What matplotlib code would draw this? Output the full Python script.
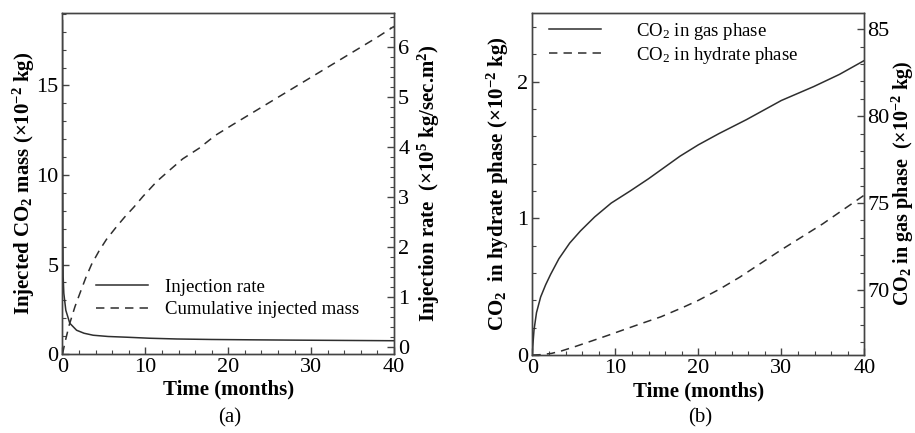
import matplotlib
matplotlib.use("Agg")
import matplotlib.pyplot as plt
from matplotlib.ticker import MultipleLocator

plt.rcParams["font.family"] = ["Liberation Serif", "DejaVu Serif"]
plt.rcParams["mathtext.default"] = "regular"

# panel (a): injection rate (right axis) and cumulative injected mass (left axis)
t_rate = [0, 0.02, 0.05, 0.08, 0.16, 0.4, 0.88, 1.7, 2.6, 3.7, 5.5, 7.8, 10.5, 13.8, 18, 23, 28, 34, 40]
rate = [6.53, 4.0, 2.2, 1.4, 1.07, 0.73, 0.47, 0.33, 0.27, 0.23, 0.205, 0.19, 0.17, 0.155, 0.145, 0.138, 0.132, 0.126, 0.12]

t_mass = [0, 0.3, 0.8, 1.5, 2.1, 2.8, 3.5, 4.4, 5.3, 6.5, 7.5, 8.6, 9.7, 11.4, 13, 14.5,
          16.5, 18.4, 20.5, 23, 25.5, 28, 30.5, 33, 35.5, 38, 40]
mass = [0, 0.65, 1.6, 2.64, 3.39, 4.25, 5.0, 5.75, 6.4, 7.1, 7.65, 8.2, 8.8, 9.65, 10.3, 10.9,
        11.5, 12.2, 12.8, 13.5, 14.2, 14.9, 15.6, 16.3, 17.0, 17.7, 18.3]

# panel (b): CO2 in gas phase (right axis) and in hydrate phase (left axis)
t_gas = [0, 0.05, 0.2, 0.5, 1.0, 1.6, 2.2, 3.2, 4.5, 5.8, 7.5, 9.5, 11.8, 14, 17.8, 20, 22.5,
         25.8, 30, 33.9, 37, 40]
gas = [66.26, 66.75, 67.7, 68.7, 69.6, 70.3, 70.9, 71.8, 72.7, 73.4, 74.2, 75.0, 75.7, 76.4,
       77.7, 78.35, 79.0, 79.8, 80.9, 81.7, 82.4, 83.2]

t_hyd = [0, 1, 2.3, 3.5, 5.1, 7, 9.2, 11, 13.2, 15.5, 18.2, 20, 22.5, 25, 27.5, 30, 32.5, 35, 37.5, 40]
hyd = [0, 0.003, 0.012, 0.03, 0.061, 0.1, 0.146, 0.185, 0.232, 0.28, 0.35, 0.40, 0.48, 0.57,
       0.67, 0.77, 0.865, 0.96, 1.065, 1.17]

line_col = "#2e2e2e"
fs_tick = 16
fs_label = 15
fs_leg = 13.5

fig = plt.figure(figsize=(9.15, 4.33), dpi=100)
ax1 = fig.add_axes([0.0683, 0.1824, 0.3623, 0.7876])
ax2 = fig.add_axes([0.5818, 0.180, 0.3628, 0.7907])


def style(ax, right=False, pad=3):
    for s in ax.spines.values():
        s.set_color("#444444")
        s.set_linewidth(1.0)
    ax.tick_params(which="both", direction="in", top=False, labelsize=fs_tick,
                   color="#444444", pad=pad)
    ax.tick_params(which="major", length=5, width=1)
    ax.tick_params(which="minor", length=3, width=0.8)
    if right:
        ax.tick_params(which="both", left=False, right=True, bottom=False)


# ---- (a)
ax1b = ax1.twinx()
l_mass, = ax1.plot(t_mass, mass, color=line_col, lw=1.1, dashes=(5.5, 4))
l_rate, = ax1b.plot(t_rate, rate, color=line_col, lw=1.1)
ax1.set_xlim(0, 40)
ax1.set_ylim(0, 19.05)
ax1b.set_ylim(-0.146, 6.68)
ax1.xaxis.set_major_locator(MultipleLocator(10))
ax1.xaxis.set_minor_locator(MultipleLocator(2))
ax1.yaxis.set_major_locator(MultipleLocator(5))
ax1.yaxis.set_minor_locator(MultipleLocator(1))
ax1b.yaxis.set_major_locator(MultipleLocator(1))
ax1b.yaxis.set_minor_locator(MultipleLocator(0.2))
style(ax1)
style(ax1b, right=True)
ax1.set_xlabel("Time (months)", fontsize=fs_label, fontweight="bold", labelpad=2)
ax1.set_ylabel("Injected CO$_2$ mass (×10$^{-2}$ kg)", fontsize=fs_label,
               fontweight="bold", labelpad=-1)
ax1b.set_ylabel("Injection rate  (×10$^5$ kg/sec.m$^2$)", fontsize=fs_label,
                fontweight="bold", labelpad=5)
ax1b.legend([l_rate, l_mass], ["Injection rate", "Cumulative injected mass"],
            loc="lower left", bbox_to_anchor=(0.05, 0.055), frameon=False,
            fontsize=fs_leg, handlelength=2.8, handletextpad=0.9, labelspacing=0.3)

# ---- (b)
ax2b = ax2.twinx()
l_hyd, = ax2.plot(t_hyd, hyd, color=line_col, lw=1.1, dashes=(5.5, 4))
l_gas, = ax2b.plot(t_gas, gas, color=line_col, lw=1.1)
ax2.set_xlim(0, 40)
ax2.set_ylim(0, 2.504)
ax2b.set_ylim(66.26, 85.95)
ax2.xaxis.set_major_locator(MultipleLocator(10))
ax2.xaxis.set_minor_locator(MultipleLocator(2))
ax2.yaxis.set_major_locator(MultipleLocator(1))
ax2.yaxis.set_minor_locator(MultipleLocator(0.2))
ax2b.yaxis.set_major_locator(MultipleLocator(5))
ax2b.yaxis.set_minor_locator(MultipleLocator(1))
style(ax2)
style(ax2b, right=True, pad=2)
ax2.set_xlabel("Time (months)", fontsize=fs_label, fontweight="bold", labelpad=2)
ax2.set_ylabel("CO$_2$  in hydrate phase (×10$^{-2}$ kg)", fontsize=fs_label,
               fontweight="bold", labelpad=4)
ax2b.set_ylabel("CO$_2$ in gas phase  (×10$^{-2}$ kg)", fontsize=14.5,
                fontweight="bold", labelpad=0)
ax2b.legend([l_gas, l_hyd], ["CO$_2$ in gas phase", "CO$_2$ in hydrate phase"],
            loc="upper left", bbox_to_anchor=(-0.002, 1.025), frameon=False,
            fontsize=fs_leg, handlelength=2.8, handletextpad=1.85, labelspacing=0.15)

fig.text(0.2514, 0.036, "(a)", ha="center", va="center", fontsize=15)
fig.text(0.765, 0.036, "(b)", ha="center", va="center", fontsize=15)

fig.savefig("out.png", dpi=100)
